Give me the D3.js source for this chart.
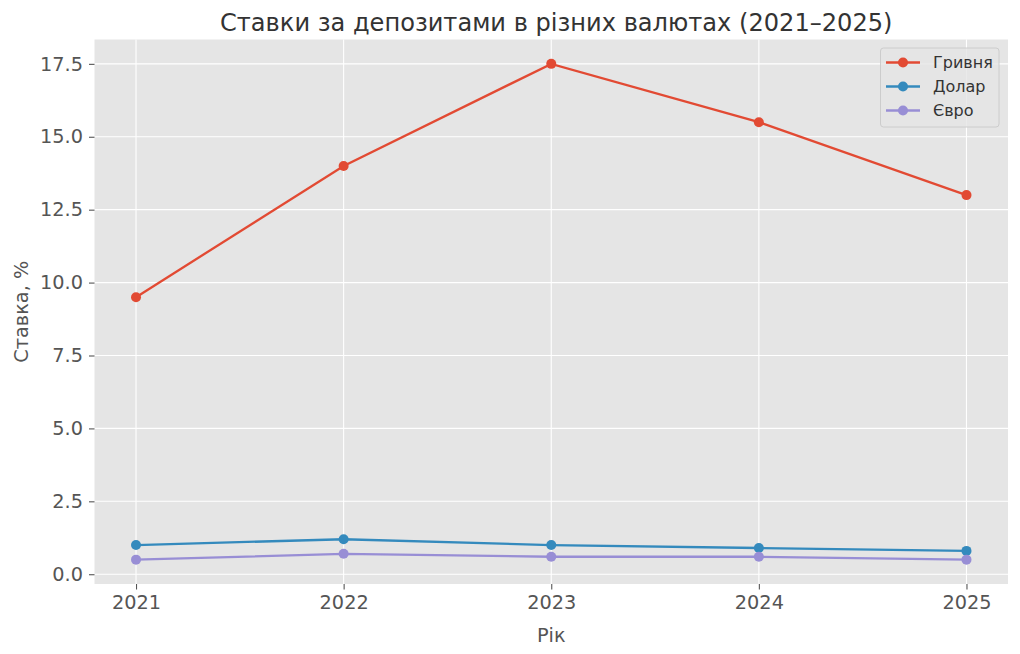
<!DOCTYPE html>
<html><head><meta charset="utf-8">
<script src="https://cdn.jsdelivr.net/npm/d3@7"></script>
<style>body{margin:0;background:#fff;font-family:"DejaVu Sans",sans-serif;}</style>
</head><body>
<svg id="c" width="1020" height="654"></svg>
<script>
const years = [2021, 2022, 2023, 2024, 2025];
const uah = [9.5, 14.0, 17.5, 15.5, 13.0];
const usd = [1.0, 1.2, 1.0, 0.9, 0.8];
const eur = [0.5, 0.7, 0.6, 0.6, 0.5];
const seriesNames = ["Гривня", "Долар", "Євро"];
const yTicks = [0.0, 2.5, 5.0, 7.5, 10.0, 12.5, 15.0, 17.5];
const colors = ["#E24A33", "#348ABD", "#988ED5"];
const title = "Ставки за депозитами в різних валютах (2021–2025)";

const series = [uah, usd, eur];
const svg = d3.select("#c");
const L = 94.5, R = 1008, T = 39.5, B = 584;
const x = d3.scaleLinear().domain([2020.8, 2025.2]).range([L, R]);
const y = d3.scaleLinear().domain([-0.335, 18.335]).range([B, T]);

svg.append("rect").attr("x", L).attr("y", T).attr("width", R - L).attr("height", B - T).attr("fill", "#E5E5E5");

const g = svg.append("g");
g.selectAll(".gy").data(yTicks).join("line")
  .attr("x1", L).attr("x2", R).attr("y1", d => y(d)).attr("y2", d => y(d))
  .attr("stroke", "#fff").attr("stroke-width", 1.1);
g.selectAll(".gx").data(years).join("line")
  .attr("y1", T).attr("y2", B).attr("x1", d => x(d)).attr("x2", d => x(d))
  .attr("stroke", "#fff").attr("stroke-width", 1.1);

const xAxis = svg.append("g").attr("transform", `translate(0,${B})`)
  .call(d3.axisBottom(x).tickValues(years).tickFormat(d3.format("d")).tickSize(5.5).tickPadding(6));
const yAxis = svg.append("g").attr("transform", `translate(${L},0)`)
  .call(d3.axisLeft(y).tickValues(yTicks).tickFormat(d3.format(".1f")).tickSize(5.5).tickPadding(6));
[xAxis, yAxis].forEach(a => {
  a.select(".domain").remove();
  a.selectAll(".tick line").attr("stroke", "#555").attr("stroke-width", 1.1);
  a.selectAll(".tick text").attr("fill", "#555").style("font-family", "DejaVu Sans").style("font-size", "19.3px");
});

const line = d3.line().x((d, i) => x(years[i])).y(d => y(d));
series.forEach((s, k) => {
  svg.append("path").datum(s).attr("d", line).attr("fill", "none")
    .attr("stroke", colors[k]).attr("stroke-width", 2.3);
  svg.selectAll(null).data(s).join("circle")
    .attr("cx", (d, i) => x(years[i])).attr("cy", d => y(d)).attr("r", 5).attr("fill", colors[k]);
});

svg.append("text").attr("x", (L + R) / 2 + 5).attr("y", 31).attr("text-anchor", "middle")
  .attr("fill", "#333").style("font-size", "24.1px").text(title);
svg.append("text").attr("x", (L + R) / 2).attr("y", 642).attr("text-anchor", "middle")
  .attr("fill", "#555").style("font-size", "19.3px").text("Рік");
svg.append("text").attr("transform", `translate(27.5,${(T + B) / 2}) rotate(-90)`).attr("text-anchor", "middle")
  .attr("fill", "#555").style("font-size", "19.3px").text("Ставка, %");

const lg = svg.append("g");
lg.append("rect").attr("x", 880.5).attr("y", 48).attr("width", 118.5).attr("height", 79).attr("rx", 3)
  .attr("fill", "#E5E5E5").attr("fill-opacity", 0.8).attr("stroke", "#ccc").attr("stroke-width", 1);
seriesNames.forEach((n, k) => {
  const yy = 62.5 + k * 24;
  lg.append("line").attr("x1", 886).attr("x2", 920).attr("y1", yy).attr("y2", yy)
    .attr("stroke", colors[k]).attr("stroke-width", 2.3);
  lg.append("circle").attr("cx", 903).attr("cy", yy).attr("r", 5).attr("fill", colors[k]);
  lg.append("text").attr("x", 933).attr("y", yy + 5.5).attr("fill", "#333").style("font-size", "16px").text(n);
});
</script>
</body></html>
